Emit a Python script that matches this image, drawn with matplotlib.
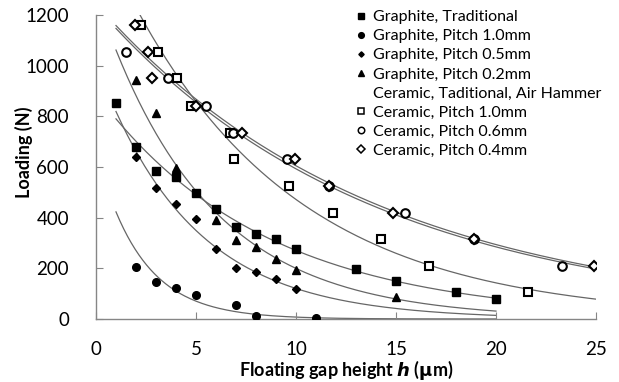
import numpy as np
import matplotlib
matplotlib.use('Agg')
from matplotlib import pyplot as plt
from matplotlib.lines import Line2D

plt.rcParams['font.family'] = ['Lato', 'DejaVu Sans']

# graphite series
gt_x = [1, 2, 3, 4, 5, 6, 7, 8, 9, 10, 13, 15, 18, 20]
gt_y = [853, 679, 584, 561, 497, 434, 363, 336, 316, 276, 197, 150, 107, 79]
g10_x = [2, 3, 4, 5, 7, 8, 11]
g10_y = [205, 146, 122, 95, 55, 12, 4]
g05_x = [2, 3, 4, 5, 6, 7, 8, 9, 10]
g05_y = [640, 517, 454, 395, 276, 201, 186, 158, 118]
g02_x = [2, 3, 4, 6, 7, 8, 9, 10, 15]
g02_y = [944, 813, 596, 391, 312, 284, 237, 193, 87]

# ceramic series
c10_x = [2.25, 3.1, 4.05, 4.75, 6.7, 6.9, 9.65, 11.85, 14.25, 16.65, 21.6]
c10_y = [1160, 1055, 950, 840, 735, 630, 525, 420, 315, 210, 105]
c06_x = [1.5, 3.6, 5.5, 6.85, 9.55, 11.65, 15.45, 18.9, 23.3]
c06_y = [1055, 950, 840, 735, 630, 525, 420, 315, 210]
c04_x = [1.95, 2.6, 2.8, 5.0, 7.3, 9.95, 11.65, 14.85, 18.9, 24.9]
c04_y = [1160, 1055, 950, 840, 735, 630, 525, 420, 315, 210]

labels = ['Graphite, Traditional', 'Graphite, Pitch 1.0mm', 'Graphite, Pitch 0.5mm',
          'Graphite, Pitch 0.2mm', 'Ceramic, Taditional, Air Hammer',
          'Ceramic, Pitch 1.0mm', 'Ceramic, Pitch 0.6mm', 'Ceramic, Pitch 0.4mm']

x_ticks = [0, 5, 10, 15, 20, 25]
y_ticks = [0, 200, 400, 600, 800, 1000, 1200]


def exp_trend(ax, x, y, x0, x1):
    # exponential trendline, like the spreadsheet one
    b, a = np.polyfit(x, np.log(y), 1)
    xx = np.linspace(x0, x1, 200)
    ax.plot(xx, np.exp(a + b*xx), color='#666666', lw=0.9, zorder=1)


fig = plt.figure(figsize=(6.19, 3.82), dpi=100)
ax = fig.add_axes([96/619, 1-319/382, 500/619, 304/382])

for x, y in [(gt_x, gt_y), (g10_x, g10_y), (g05_x, g05_y), (g02_x, g02_y)]:
    exp_trend(ax, x, y, 1, 20)
for x, y in [(c10_x, c10_y), (c06_x, c06_y), (c04_x, c04_y)]:
    exp_trend(ax, x, y, 1, 25)

styles = [
    dict(marker='s', ms=5.5, mfc='black', mec='black'),
    dict(marker='o', ms=5.5, mfc='black', mec='black'),
    dict(marker='D', ms=3.6, mfc='black', mec='black'),
    dict(marker='^', ms=6, mfc='black', mec='black'),
    dict(marker='s', ms=6, mfc='white', mec='black', mew=1.5),
    dict(marker='o', ms=6.2, mfc='white', mec='black', mew=1.5),
    dict(marker='D', ms=5.5, mfc='white', mec='black', mew=1.5),
]
series = [(gt_x, gt_y), (g10_x, g10_y), (g05_x, g05_y), (g02_x, g02_y),
          (c10_x, c10_y), (c06_x, c06_y), (c04_x, c04_y)]
for (x, y), st in zip(series, styles):
    ax.plot(x, y, ls='none', zorder=3, **st)

handles = []
for i, st in enumerate(styles):
    if i == 4:
        handles.append(Line2D([], [], ls='none', marker='none'))
    st2 = dict(st)
    st2['ms'] = st['ms']*0.75
    if 'mew' in st2:
        st2['mew'] = 1.1
    handles.append(Line2D([], [], ls='none', **st2))

fig.legend(handles, labels, loc='upper left', bbox_to_anchor=(355/619, 0.974),
           frameon=False, fontsize=11.5, handlelength=0.75, handletextpad=0.4,
           labelspacing=0.31, borderpad=0, borderaxespad=0)

ax.set_xlim(0, 25)
ax.set_ylim(0, 1200)
ax.set_xticks(x_ticks)
ax.set_yticks(y_ticks)
for s in ['top', 'right']:
    ax.spines[s].set_visible(False)
for s in ['left', 'bottom']:
    ax.spines[s].set_color('#868686')
    ax.spines[s].set_linewidth(1)
ax.tick_params(axis='both', direction='in', length=5, color='#868686', labelsize=13.5)
ax.tick_params(axis='y', pad=19.5)
ax.tick_params(axis='x', pad=16)

ax.set_xlabel(r'Floating gap height $\boldsymbol{h}$ ($\mathbf{\mu}$m)', fontsize=13,
              fontweight='bold', va='center')
ax.xaxis.set_label_coords(0.5, -(370-319)/304)
ax.set_ylabel('Loading (N)', fontsize=13, fontweight='bold', va='center')
ax.yaxis.set_label_coords((24-96)/500, (319-152)/304)

fig.savefig('out.png', dpi=100)
